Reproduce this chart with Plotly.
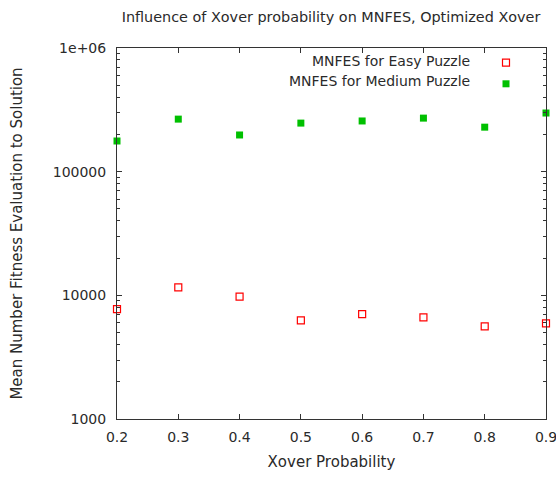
import plotly.graph_objects as go

x_prob = [0.2, 0.3, 0.4, 0.5, 0.6, 0.7, 0.8, 0.9]
easy_mnfes = [7740, 11600, 9750, 6280, 7060, 6640, 5610, 5940]
medium_mnfes = [177000, 266000, 198000, 247000, 257000, 271000, 229000, 298000]

x_ticks = [0.2, 0.3, 0.4, 0.5, 0.6, 0.7, 0.8, 0.9]
x_ticktext = ["0.2", "0.3", "0.4", "0.5", "0.6", "0.7", "0.8", "0.9"]
y_ticks = [1000, 10000, 100000, 1000000]
y_ticktext = ["1000", "10000", "100000", "1e+06"]

legend_names = ["MNFES for Easy Puzzle", "MNFES for Medium Puzzle"]

FONT = "DejaVu Sans"
TXT = "#2a2a2a"
FS = 14
FT = 15
L, R, T, B = 117, 546, 48, 419
W, H = 556, 478

fig = go.Figure()
fig.add_trace(go.Scatter(
    x=x_prob, y=easy_mnfes, mode="markers", name=" ",
    marker=dict(symbol="square-open", size=7, color="#ff0000", line=dict(width=1.2, color="#ff0000")),
    cliponaxis=False,
))
fig.add_trace(go.Scatter(
    x=x_prob, y=medium_mnfes, mode="markers", name=" ",
    marker=dict(symbol="square", size=7, color="#00c000", line=dict(width=0)),
    cliponaxis=False,
))

axis_common = dict(
    showgrid=False, zeroline=False, showline=True, linecolor="#333333", linewidth=1,
    mirror="ticks", ticks="inside", tickcolor="#333333", ticklen=5,
    tickfont=dict(family=FONT, size=FS, color=TXT), ticklabeloverflow="allow",
)

fig.update_layout(
    width=W, height=H,
    margin=dict(l=L, r=W - R, t=T, b=H - B, autoexpand=False),
    paper_bgcolor="white", plot_bgcolor="white",
    font=dict(family=FONT, size=FS, color=TXT),
    title=dict(text="Influence of Xover probability on MNFES, Optimized Xover",
               x=331 / W, xanchor="center", y=1 - 17 / H, yanchor="middle",
               font=dict(family=FONT, size=14.4, color=TXT)),
    xaxis=dict(range=[0.2, 0.9], tickvals=x_ticks, ticktext=x_ticktext, ticklabelstandoff=5,
               title=dict(text="Xover Probability", font=dict(family=FONT, size=FT, color=TXT), standoff=12),
               **axis_common),
    yaxis=dict(type="log", range=[3, 6], tickvals=y_ticks, ticktext=y_ticktext, ticklabelstandoff=7,
               minor=dict(ticks="inside", ticklen=3, tickcolor="#333333", dtick="D1"),
               title=dict(text="Mean Number Fitness Evaluation to Solution",
                          font=dict(family=FONT, size=FT, color=TXT), standoff=26),
               **axis_common),
    legend=dict(x=(486 - L) / (R - L), y=1 + 1 / (B - T), xanchor="left", yanchor="top",
                bgcolor="rgba(0,0,0,0)", font=dict(family=FONT, size=FS, color=TXT),
                itemwidth=30, tracegroupgap=0),
    showlegend=True,
)

for i, name in enumerate(legend_names):
    py = 61 + 20 * i
    fig.add_annotation(text=name, xref="paper", yref="paper",
                       x=(472 - L) / (R - L), y=1 - (py - T) / (B - T),
                       xanchor="right", yanchor="middle", showarrow=False,
                       font=dict(family=FONT, size=FS, color=TXT))

fig.write_html("out.html")
